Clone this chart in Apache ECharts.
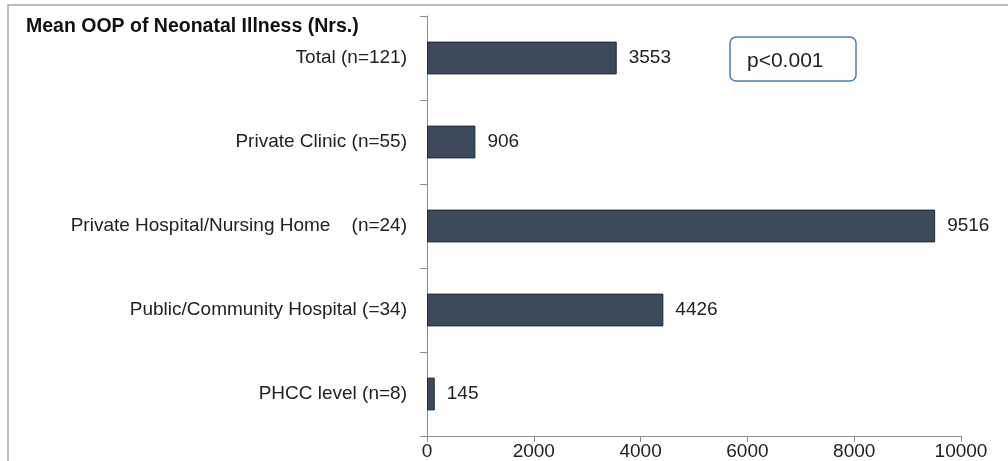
<!DOCTYPE html>
<html>
<head>
<meta charset="utf-8">
<script src="https://cdn.jsdelivr.net/npm/echarts@6/dist/echarts.min.js"></script>
<style>
  html, body { margin: 0; padding: 0; background: #fff; }
  #main { width: 1008px; height: 461px; }
</style>
</head>
<body>
<div id="main"></div>
<script>
// categories, top to bottom
var categories = [
  'Total (n=121)',
  'Private Clinic (n=55)',
  'Private Hospital/Nursing Home    (n=24)',
  'Public/Community Hospital (=34)',
  'PHCC level (n=8)'
];
var meanOop = [3553, 906, 9516, 4426, 145];
var xTicks = [0, 2000, 4000, 6000, 8000, 10000];

var chart = echarts.init(document.getElementById('main'));

var option = {
  backgroundColor: '#fff',
  animation: false,
  title: {
    text: 'Mean OOP of Neonatal Illness (Nrs.)',
    left: 21,
    top: 12,
    textStyle: {
      fontFamily: 'Liberation Sans',
      fontWeight: 'bold',
      fontSize: 19.5,
      color: '#111'
    }
  },
  grid: { left: 427, right: 47, top: 16, bottom: 23 },
  xAxis: {
    type: 'value',
    min: xTicks[0],
    max: xTicks[xTicks.length - 1],
    interval: 2000,
    axisLine: { show: true, lineStyle: { color: '#8c8c8c' } },
    axisTick: { show: true, length: 6, lineStyle: { color: '#8c8c8c' } },
    splitLine: { show: false },
    axisLabel: {
      margin: 6,
      fontFamily: 'Liberation Sans',
      fontSize: 19,
      color: '#222',
      formatter: function (v) { return String(v); }
    }
  },
  yAxis: {
    type: 'category',
    inverse: true,
    data: categories,
    axisLine: { show: true, lineStyle: { color: '#8c8c8c' } },
    axisTick: { show: true, length: 7, lineStyle: { color: '#8c8c8c' } },
    axisLabel: {
      margin: 20,
      fontFamily: 'Liberation Sans',
      fontSize: 19,
      color: '#222'
    }
  },
  series: [{
    type: 'bar',
    data: meanOop,
    barWidth: '39%',
    itemStyle: {
      color: '#3d4a5c',
      borderColor: '#1e2836',
      borderWidth: 1
    },
    label: {
      show: true,
      position: 'right',
      distance: 12,
      fontFamily: 'Liberation Sans',
      fontSize: 19,
      color: '#222'
    }
  }],
  graphic: [
    {
      type: 'rect',
      shape: { x: 8, y: 5, width: 1010, height: 470 },
      style: { fill: null, stroke: '#a6a6a6', lineWidth: 1.5 },
      silent: true
    },
    {
      type: 'rect',
      shape: { x: 730, y: 37, width: 126, height: 44, r: 6 },
      style: { fill: '#fff', stroke: '#4a7ebb', lineWidth: 1.5 }
    },
    {
      type: 'text',
      x: 747,
      y: 61,
      style: {
        text: 'p<0.001',
        fontFamily: 'Liberation Sans',
        fontSize: 21,
        fill: '#222',
        verticalAlign: 'middle'
      }
    }
  ]
};

chart.setOption(option);
</script>
</body>
</html>
